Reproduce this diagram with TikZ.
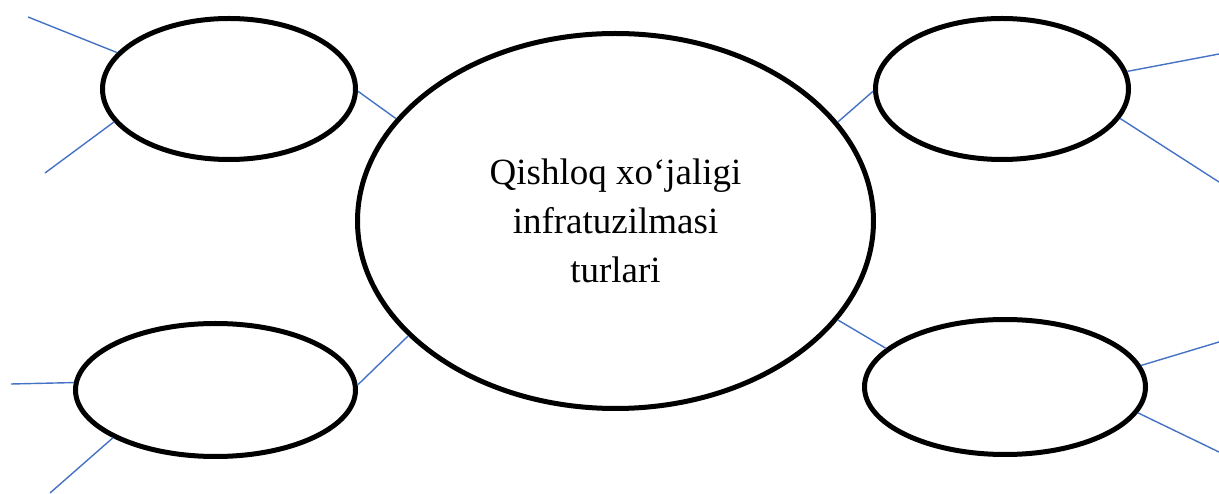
\documentclass[tikz,border=0pt]{standalone}
\usepackage{fontspec}
\setmainfont{Liberation Serif}
\usetikzlibrary{shapes.geometric}
\definecolor{spokeblue}{RGB}{68,114,196}
\begin{document}
\begin{tikzpicture}[x=1pt,y=1pt,
    bubble/.style={draw,ellipse,line width=5pt,inner sep=0pt},
    spoke/.style={draw=spokeblue,line width=1.4pt},
    font=\fontsize{37}{49}\selectfont]
  \useasboundingbox (0,0) rectangle (1219,493);
  \node[bubble,minimum width=516pt,minimum height=375pt,align=center] (c) at (615.5,272) {Qishloq xo‘jaligi\\infratuzilmasi\\turlari};
  \node[bubble,minimum width=253pt,minimum height=141pt] (tl) at (229,404) {};
  \node[bubble,minimum width=253pt,minimum height=141pt] (tr) at (1002,404) {};
  \node[bubble,minimum width=280pt,minimum height=133pt] (bl) at (215.5,103) {};
  \node[bubble,minimum width=281pt,minimum height=135pt] (br) at (1005,106) {};
  % free ends
  \coordinate (tl1) at (28,476);
  \coordinate (tl2) at (45,320);
  \coordinate (tr1) at (1219,439);
  \coordinate (tr2) at (1219,311);
  \coordinate (bl1) at (11,109);
  \coordinate (bl2) at (50,0);
  \coordinate (br1) at (1219,151);
  \coordinate (br2) at (1219,41);
  % links to the middle
  \draw[spoke] (tl.-1) -- (c.155.7);
  \draw[spoke] (tr.181) -- (c.24.7);
  \draw[spoke] (bl.2.4) -- (c.209.5);
  \draw[spoke] (br.162.7) -- (c.-24.9);
  % outer lines
  \draw[spoke] (tl.162) -- (tl1);
  \draw[spoke] (tl.196.6) -- (tl2);
  \draw[spoke] (tr.8.3) -- (tr1);
  \draw[spoke] (tr.-14.3) -- (tr2);
  \draw[spoke] (bl.177.6) -- (bl1);
  \draw[spoke] (bl.205.3) -- (bl2);
  \draw[spoke] (br.9.6) -- (br1);
  \draw[spoke] (br.-11) -- (br2);
\end{tikzpicture}
\end{document}
